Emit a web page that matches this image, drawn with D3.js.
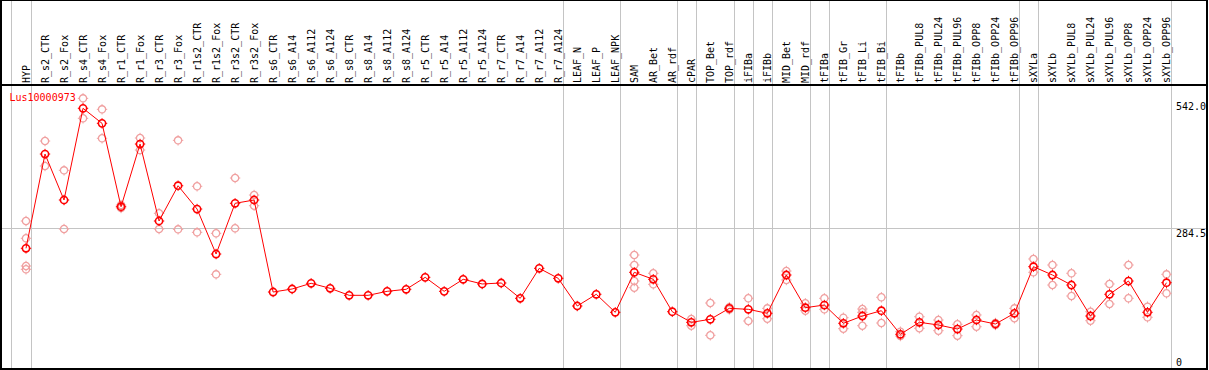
<!DOCTYPE HTML>
<html>
	<head>
        <meta charset="utf-8">
		<title>Lus10000973</title>
        <script src="https://d3js.org/d3.v7.min.js"></script>
        <style>
            body { margin: 0; background: #fff; }
            svg { display: block; }
            text { font-family: "DejaVu Sans Mono", monospace; font-size: 10px; }
        </style>
	</head>
	<body>
        <svg id="chart" width="1209" height="370"></svg>
        <script type="text/javascript">
            const geneName = "Lus10000973";

            const categories = [
                "HYP", "R_s2_CTR", "R_s2_Fox", "R_s4_CTR", "R_s4_Fox", "R_r1_CTR", "R_r1_Fox",
                "R_r3_CTR", "R_r3_Fox", "R_r1s2_CTR", "R_r1s2_Fox", "R_r3s2_CTR", "R_r3s2_Fox",
                "R_s6_CTR", "R_s6_A14", "R_s6_A112", "R_s6_A124", "R_s8_CTR", "R_s8_A14", "R_s8_A112", "R_s8_A124",
                "R_r5_CTR", "R_r5_A14", "R_r5_A112", "R_r5_A124", "R_r7_CTR", "R_r7_A14", "R_r7_A112", "R_r7_A124",
                "LEAF_N", "LEAF_P", "LEAF_NPK", "SAM", "AR_Bet", "AR_rdf", "cPAR", "TOP_Bet", "TOP_rdf",
                "iFIBa", "iFIBb", "MID_Bet", "MID_rdf", "tFIBa", "tFIB_Gr", "tFIB_Li", "tFIB_Bi",
                "tFIBb", "tFIBb_PUL8", "tFIBb_PUL24", "tFIBb_PUL96", "tFIBb_OPP8", "tFIBb_OPP24", "tFIBb_OPP96",
                "sXYLa", "sXYLb", "sXYLb_PUL8", "sXYLb_PUL24", "sXYLb_PUL96", "sXYLb_OPP8", "sXYLb_OPP24", "sXYLb_OPP96"
            ];

            // mean expression per sample
            const means = [
                243.9, 435.2, 341.9, 528.0, 497.5, 328.3, 455.5,
                299.3, 370.9, 323.6, 232.3, 335.2, 341.9,
                155.2, 161.3, 172.9, 162.7, 148.5, 148.5, 156.6, 160.7,
                185.0, 156.6, 181.0, 171.5, 173.5, 142.4, 203.3, 183.0,
                126.8, 150.6, 114.0, 195.2, 181.0, 115.2, 93.7, 99.8, 122.1,
                120.1, 112.0, 189.7, 123.4, 128.8, 91.7, 106.5, 117.3,
                69.4, 93.7, 88.3, 80.1, 98.4, 90.3, 112.0,
                206.6, 189.7, 169.4, 106.5, 150.6, 177.5, 114.0, 174.1
            ];

            // individual replicates (empty where only the mean is shown)
            const replicates = [
                [299.3, 264.2, 208.0, 201.3], [461.6, 410.9], [402.1, 283.0], [548.2, 507.7], [525.9, 467.1],
                [331.7, 325.7], [467.7, 443.3], [314.9, 283.0], [463.0, 282.4], [369.7, 276.3],
                [274.3, 191.1], [386.5, 284.5], [352.0, 330.3],
                [], [], [], [], [], [], [], [],
                [], [], [], [], [], [], [], [],
                [], [], [], [230.3, 210.0, 177.5, 163.9], [193.2, 170.8], [], [100.4, 86.8],
                [132.9, 67.4], [124.5, 119.7], [142.4, 96.4], [122.1, 101.0], [197.8, 179.6],
                [132.3, 117.3], [142.4, 120.1], [103.1, 80.8], [120.7, 114.0, 86.8], [144.5, 92.3],
                [74.7, 65.9], [105.1, 81.6], [98.4, 76.7], [89.7, 66.6], [108.6, 84.8], [92.3, 88.3], [122.1, 101.9],
                [222.2, 195.2], [210.0, 169.4], [193.2, 147.1], [115.2, 97.0], [171.5, 130.9],
                [210.0, 142.4], [125.4, 103.9], [191.1, 152.6]
            ];

            // index of the last sample in each tissue group
            const groupEnds = [0, 28, 31, 34, 35, 37, 38, 39, 41, 42, 45, 52, 53, 60];

            const yTicks = [0, 284.5, 542.0];

            const svg = d3.select("svg#chart"),
                width = +svg.attr("width"),
                height = +svg.attr("height");

            const labelBand = 85;

            const x = d3.scalePoint()
                .domain(categories)
                .range([26, 1166.5]);

            const y = d3.scaleLinear()
                .domain([0, 542])
                .range([368.5, 101.4]);

            const grey = "#c4c4c4";

            // horizontal grid line at the middle tick
            svg.append("line")
                .attr("x1", 1).attr("x2", width - 1)
                .attr("y1", Math.round(y(284.5)) + 0.5).attr("y2", Math.round(y(284.5)) + 0.5)
                .attr("stroke", grey)
                .attr("shape-rendering", "crispEdges");

            // group separators, full height
            const seps = [-1].concat(groupEnds).map(function(i) {
                return i < 0 ? x(categories[0]) - x.step() + 4.5 : x(categories[i]) + 4.5;
            });
            svg.selectAll("line.sep")
                .data(seps)
                .enter().append("line")
                .attr("class", "sep")
                .attr("x1", d => Math.round(d) + 0.5).attr("x2", d => Math.round(d) + 0.5)
                .attr("y1", 0).attr("y2", height)
                .attr("stroke", grey)
                .attr("shape-rendering", "crispEdges");

            // frame
            svg.append("rect")
                .attr("x", 1).attr("y", 0.5)
                .attr("width", width - 3).attr("height", height - 1.5)
                .attr("fill", "none")
                .attr("stroke", "#000")
                .attr("stroke-width", 1.5)
                .attr("shape-rendering", "crispEdges");
            svg.append("line")
                .attr("x1", 1).attr("x2", width - 2)
                .attr("y1", labelBand).attr("y2", labelBand)
                .attr("stroke", "#000")
                .attr("stroke-width", 1.5)
                .attr("shape-rendering", "crispEdges");

            // sample labels, vertical
            svg.selectAll("text.cat")
                .data(categories)
                .enter().append("text")
                .attr("class", "cat")
                .attr("transform", d => "translate(" + (x(d) + 3.5) + "," + (labelBand - 2) + ") rotate(-90)")
                .attr("fill", "#000")
                .text(d => d);

            // y value labels on the right
            svg.selectAll("text.ytick")
                .data(yTicks)
                .enter().append("text")
                .attr("class", "ytick")
                .attr("x", 1176)
                .attr("y", d => Math.min(y(d) + 9, 366))
                .attr("fill", "#000")
                .text(d => d === 0 ? "0" : d.toFixed(1));

            // marker: circle with small ticks
            function marker(sel, color, sw) {
                sel.append("circle")
                    .attr("r", 3.6)
                    .attr("fill", "none")
                    .attr("stroke", color)
                    .attr("stroke-width", sw);
                sel.append("path")
                    .attr("d", "M0,-5.2V-3.6M0,3.6V5.2M-5.2,0H-3.6M3.6,0H5.2")
                    .attr("stroke", color)
                    .attr("stroke-width", 1);
            }

            // replicates
            const repData = [];
            replicates.forEach(function(reps, i) {
                reps.forEach(function(v) { repData.push({ cat: categories[i], value: v }); });
            });
            svg.selectAll("g.rep")
                .data(repData)
                .enter().append("g")
                .attr("class", "rep")
                .attr("transform", d => "translate(" + x(d.cat) + "," + y(d.value) + ")")
                .call(marker, "#f0a0a0", 1.3);

            // mean line
            const data = categories.map(function(c, i) { return { cat: c, value: means[i] }; });
            const line = d3.line()
                .x(d => x(d.cat))
                .y(d => y(d.value));

            svg.append("path")
                .datum(data)
                .attr("fill", "none")
                .attr("stroke", "#ff0000")
                .attr("stroke-width", 1)
                .attr("d", line);

            svg.selectAll("g.mean")
                .data(data)
                .enter().append("g")
                .attr("class", "mean")
                .attr("transform", d => "translate(" + x(d.cat) + "," + y(d.value) + ")")
                .call(marker, "#ff0000", 1.6);

            svg.append("text")
                .attr("x", 9.5)
                .attr("y", 100.5)
                .attr("fill", "#ff0000")
                .text(geneName);
        </script>
	</body>
</html>
